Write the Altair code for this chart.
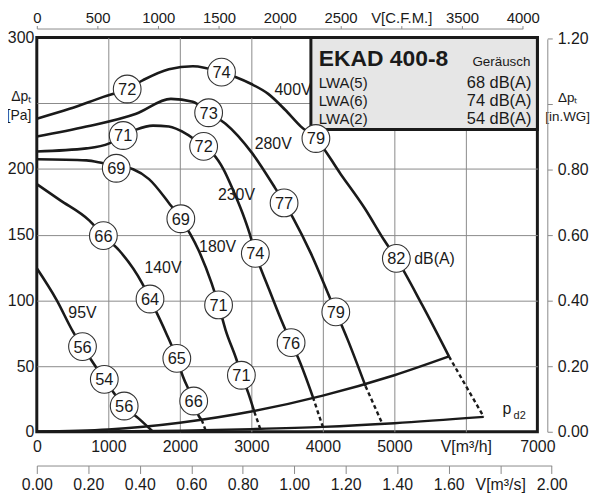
import altair as alt
import pandas as pd

FONT = "Liberation Sans"
INK = "#1a1a1a"
GRID = "#8a8a8a"
AXG = "#8a8a8a"

# ---------------- data ----------------
# fan curves: V [m3/h] -> dp_t [Pa]
q_400 = [0, 458, 931, 1264, 1486, 1847, 2181, 2583, 2778, 3000, 3236, 3472, 3694, 3903, 4250, 4583, 4861, 5028, 5389, 5764]
p_400 = [238.2, 245.7, 254.8, 260.8, 267.6, 275.9, 278.1, 273.6, 269.9, 264.6, 257.1, 245.0, 232.2, 223.1, 196.0, 170.3, 145.5, 131.9, 96.5, 57.3]

q_280 = [0, 694, 1389, 1875, 2181, 2403, 2639, 3014, 3333, 3583, 3833, 4111, 4347, 4597]
p_280 = [224.6, 232.2, 242.0, 253.3, 251.0, 242.7, 234.4, 211.8, 185.4, 162.8, 135.7, 100.2, 70.1, 34.7]

q_230 = [0, 694, 1014, 1208, 1389, 1625, 1847, 2083, 2333, 2458, 2611, 2750, 2875, 2972, 3056, 3236, 3417, 3556, 3653, 3861]
p_230 = [213.3, 215.6, 219.4, 225.4, 229.9, 232.9, 232.2, 226.9, 217.1, 211.8, 199.7, 183.2, 166.6, 151.5, 135.7, 110.0, 85.2, 67.8, 56.5, 26.4]

q_180 = [0, 694, 931, 1347, 1569, 1847, 2014, 2264, 2444, 2542, 2639, 2792, 2861, 2958, 3042]
p_180 = [207.3, 206.5, 204.3, 199.7, 192.2, 174.1, 162.1, 137.9, 113.1, 96.5, 77.6, 55.0, 43.0, 29.4, 15.1]

q_140 = [0, 319, 736, 931, 1153, 1472, 1583, 1806, 1958, 2042, 2194, 2264, 2306]
p_140 = [188.4, 176.4, 160.6, 149.2, 137.9, 113.1, 101.0, 75.4, 55.8, 42.2, 23.4, 12.1, 9.0]

q_95 = [0, 278, 514, 639, 944, 1222, 1431, 1625]
p_95 = [124.4, 100.2, 75.4, 64.8, 39.9, 19.6, 9.8, 0]

# dashed extensions below the limit curve
dash_curve = ["400V", "400V", "280V", "280V", "230V", "230V", "180V", "180V", "140V", "140V"]
dash_q = [5764, 6250, 4597, 4833, 3861, 4000, 3042, 3125, 2306, 2361]
dash_p = [57.3, 11.3, 34.7, 6.0, 26.4, 3.7, 15.1, 2.2, 9.0, 1.0]

# system curves
q_sys_hi = [0, 1000, 2000, 3000, 4000, 5000, 5764]
p_sys_hi = [0, 1.7, 6.9, 15.4, 27.5, 43.0, 57.3]
q_pd2 = [0, 1000, 2000, 3000, 4000, 5000, 6250]
p_pd2 = [0, 0.2, 0.8, 2.0, 3.7, 6.5, 11.3]

# sound level markers dB(A)
mark_val = ["72", "74", "79", "82", "73", "77", "79", "71", "72", "74", "76",
            "69", "69", "71", "71", "66", "64", "65", "66", "56", "54", "56"]
mark_q = [1264, 2583, 3903, 5028, 2403, 3458, 4181, 1208, 2333, 3056, 3556,
          1111, 2014, 2542, 2861, 931, 1583, 1958, 2194, 639, 944, 1222]
mark_p = [260.8, 273.6, 223.1, 131.9, 242.7, 174.1, 91.2, 225.4, 217.1, 135.7, 67.8,
          200.5, 162.1, 96.5, 43.0, 149.2, 101.0, 55.8, 23.4, 64.8, 39.9, 19.6]

# voltage labels
volt_text = ["400V", "280V", "230V", "180V", "140V", "95V"]
volt_q = [3583, 3306, 2792, 2528, 1764, 639]
volt_p = [260.0, 218.6, 180.1, 140.2, 124.4, 90.4]

# info box
box_q = [3833]
box_q2 = [7000]
box_p = [229.9]
box_p2 = [300]
title_text = ["EKAD 400-8"]
noise_head = ["Geräusch"]
lwa_names = ["LWA(5)", "LWA(6)", "LWA(2)"]
lwa_values = ["68 dB(A)", "74 dB(A)", "54 dB(A)"]
lwa_p = [261.6, 248.0, 234.4]

# axis ticks
ticks_m3h = [0, 1000, 2000, 3000, 4000, 5000, 6000, 7000]
ticks_pa = [0, 50, 100, 150, 200, 250, 300]
ticks_cfm = [0, 500, 1000, 1500, 2000, 2500, 3000, 3500, 4000]
ticks_m3s = [0, 0.2, 0.4, 0.6, 0.8, 1.0, 1.2, 1.4, 1.6, 1.8, 2.0]
ticks_inwg = [0, 0.2, 0.4, 0.6, 0.8, 1.0, 1.2]

# ---------------- frames ----------------
def curve_df(name, q, p):
    return pd.DataFrame({"curve": name, "q": q, "p": p})

fan = pd.concat([
    curve_df("400V", q_400, p_400), curve_df("280V", q_280, p_280),
    curve_df("230V", q_230, p_230), curve_df("180V", q_180, p_180),
    curve_df("140V", q_140, p_140), curve_df("95V", q_95, p_95),
])
system = pd.concat([curve_df("hi", q_sys_hi, p_sys_hi), curve_df("pd2", q_pd2, p_pd2)])
dashes = pd.DataFrame({"curve": dash_curve, "q": dash_q, "p": dash_p})
marks = pd.DataFrame({"t": mark_val, "q": mark_q, "p": mark_p})
volts = pd.DataFrame({"t": volt_text, "q": volt_q, "p": volt_p})
box = pd.DataFrame({"q": box_q, "q2": box_q2, "p": box_p, "p2": box_p2})
title_df = pd.DataFrame({"t": title_text, "q": [3944], "p": [278.1]})
head_df = pd.DataFrame({"t": noise_head, "q": [6903], "p": [278.1]})
names_df = pd.DataFrame({"t": lwa_names, "q": 3944, "p": lwa_p})
vals_df = pd.DataFrame({"t": lwa_values, "q": 6917, "p": lwa_p})
dba_df = pd.DataFrame({"t": ["dB(A)"], "q": [5278], "p": [131.2]})
pd2_p = pd.DataFrame({"t": ["p"], "q": [6514], "p": [13.6]})
pd2_sub = pd.DataFrame({"t": ["d2"], "q": [6667], "p": [9.8]})

# ---------------- main scales / axes ----------------
xs = alt.Scale(domain=[0, 7000], nice=False, zero=False)
ys = alt.Scale(domain=[0, 300], nice=False, zero=False)

x_axis = alt.Axis(
    values=ticks_m3h, format="d", title=None,
    labelExpr="datum.value == 6000 ? 'V[m³/h]' : datum.label",
    grid=True, gridColor={"condition": {"test": "datum.value == 0 || datum.value == 7000", "value": "transparent"}, "value": GRID},
    gridWidth=1, domain=False, ticks=False, labelPadding=7,
    labelFont=FONT, labelFontSize=16, labelColor=INK,
    labelFlush=False, labelOverlap=False,
)
y_axis = alt.Axis(
    values=ticks_pa, format="d", title=None,
    labelExpr="datum.value == 250 ? ['Δpₜ', '[Pa]'] : datum.label",
    grid=True, gridColor={"condition": {"test": "datum.value == 0 || datum.value == 300", "value": "transparent"}, "value": GRID},
    gridWidth=1, domain=False, ticks=False,
    labelPadding={"condition": {"test": "datum.value == 250", "value": 6}, "value": 3},
    labelOffset={"condition": {"test": "datum.value == 250", "value": -7}, "value": 0},
    labelFontSize={"condition": {"test": "datum.value == 250", "value": 14}, "value": 16},
    labelFont=FONT, labelColor=INK, labelLineHeight=19,
    labelFlush=False, labelOverlap=False,
)
X = alt.X("q:Q", scale=xs, axis=x_axis)
Y = alt.Y("p:Q", scale=ys, axis=y_axis)

sys_layer = alt.Chart(system).mark_line(color=INK, strokeWidth=2.4, interpolate="monotone").encode(
    x=X, y=Y, detail="curve:N")
fan_layer = alt.Chart(fan).mark_line(color=INK, strokeWidth=2.6, interpolate="monotone").encode(
    x=X, y=Y, detail="curve:N")
dash_layer = alt.Chart(dashes).mark_line(color=INK, strokeWidth=2.4, strokeDash=[4, 3]).encode(
    x=X, y=Y, detail="curve:N")
box_layer = alt.Chart(box).mark_rect(fill="#e6e6e6", stroke=INK, strokeWidth=3).encode(
    x=X, x2="q2:Q", y=Y, y2="p2:Q")
title_layer = alt.Chart(title_df).mark_text(align="left", baseline="alphabetic", font=FONT,
                                            fontSize=23, fontWeight="bold", color=INK).encode(x=X, y=Y, text="t:N")
head_layer = alt.Chart(head_df).mark_text(align="right", baseline="alphabetic", font=FONT,
                                          fontSize=13.5, color=INK).encode(x=X, y=Y, text="t:N")
names_layer = alt.Chart(names_df).mark_text(align="left", baseline="alphabetic", font=FONT,
                                            fontSize=15, color=INK).encode(x=X, y=Y, text="t:N")
vals_layer = alt.Chart(vals_df).mark_text(align="right", baseline="alphabetic", font=FONT,
                                          fontSize=16.5, color=INK).encode(x=X, y=Y, text="t:N")
circ_layer = alt.Chart(marks).mark_point(shape="circle", fill="white", fillOpacity=1, opacity=1,
                                         stroke="#333333", strokeWidth=1.1, size=780).encode(x=X, y=Y)
circ_text = alt.Chart(marks).mark_text(align="center", baseline="middle", font=FONT, fontSize=16.5,
                                       color=INK, dy=1).encode(x=X, y=Y, text="t:N")
volt_layer = alt.Chart(volts).mark_text(align="center", baseline="middle", font=FONT, fontSize=16,
                                        color=INK).encode(x=X, y=Y, text="t:N")
dba_layer = alt.Chart(dba_df).mark_text(align="left", baseline="middle", font=FONT, fontSize=16,
                                        color=INK).encode(x=X, y=Y, text="t:N")
pd2_layer = alt.Chart(pd2_p).mark_text(align="left", baseline="alphabetic", font=FONT, fontSize=16,
                                       color=INK).encode(x=X, y=Y, text="t:N")
pd2_sub_layer = alt.Chart(pd2_sub).mark_text(align="left", baseline="alphabetic", font=FONT, fontSize=11,
                                             color=INK).encode(x=X, y=Y, text="t:N")

main = alt.layer(sys_layer, fan_layer, dash_layer, box_layer, title_layer, head_layer, names_layer,
                 vals_layer, circ_layer, circ_text, volt_layer, dba_layer, pd2_layer, pd2_sub_layer)

# ---------------- secondary axes ----------------
cfm_layer = alt.Chart(pd.DataFrame({"cfm": [ticks_cfm[0], ticks_cfm[-1]]})).mark_point(opacity=0).encode(
    x=alt.X("cfm:Q", scale=alt.Scale(domain=[0, 4000], range=[0, 489.3], nice=False, zero=False),
            axis=alt.Axis(orient="top", offset=9, values=ticks_cfm, format="d", title=None,
                          labelExpr="datum.value == 3000 ? 'V[C.F.M.]' : datum.label",
                          domainColor=AXG, domainWidth=1, tickColor=AXG, tickWidth=1, tickSize=3,
                          labelPadding=0, labelFont=FONT, labelFontSize=15, labelColor=INK,
                          labelFlush=False, labelOverlap=False, grid=False)))

m3s_layer = alt.Chart(pd.DataFrame({"cms": [ticks_m3s[0], ticks_m3s[-1]]})).mark_point(opacity=0).encode(
    x=alt.X("cms:Q", scale=alt.Scale(domain=[0, 2.0], range=[0, 518.4], nice=False, zero=False),
            axis=alt.Axis(orient="bottom", offset=34, values=ticks_m3s, title=None,
                          labelExpr="datum.value == 1.8 ? 'V[m³/s]' : format(datum.value, '.2f')",
                          domainColor=AXG, domainWidth=1, tickColor=AXG, tickWidth=1, tickSize=8,
                          labelPadding=3, labelFont=FONT, labelFontSize=16, labelColor=INK,
                          labelFlush=False, labelOverlap=False, grid=False)))

inwg_layer = alt.Chart(pd.DataFrame({"inwg": [ticks_inwg[0], ticks_inwg[-1]]})).mark_point(opacity=0).encode(
    y=alt.Y("inwg:Q", scale=alt.Scale(domain=[0, 1.2], range=[397, 1.45], nice=False, zero=False),
            axis=alt.Axis(orient="right", offset=10, values=ticks_inwg, title=None,
                          labelExpr="datum.value == 1 ? ['Δpₜ', '[in.WG]'] : format(datum.value, '.2f')",
                          domainColor=AXG, domainWidth=1, tickColor=AXG, tickWidth=1, tickSize=5,
                          labelPadding={"condition": {"test": "datum.value == 1", "value": 15}, "value": 5},
                          labelOffset={"condition": {"test": "datum.value == 1", "value": -7}, "value": 0},
                          labelAlign={"condition": {"test": "datum.value == 1", "value": "center"}, "value": "left"},
                          labelFontSize={"condition": {"test": "datum.value == 1", "value": 13.5}, "value": 16},
                          labelLineHeight=19,
                          labelFont=FONT, labelColor=INK,
                          labelFlush=False, labelOverlap=False, grid=False)))

chart = alt.layer(main, cfm_layer, m3s_layer, inwg_layer).resolve_scale(
    x="independent", y="independent"
).properties(
    width=504, height=397,
    padding={"left": 29, "top": 28, "right": 55, "bottom": 62},
    autosize=alt.AutoSizeParams(type="none"),
    background="white",
).configure_view(stroke=INK, strokeWidth=3)

chart.save("out.html", embed_options={"renderer": "svg", "actions": False})
